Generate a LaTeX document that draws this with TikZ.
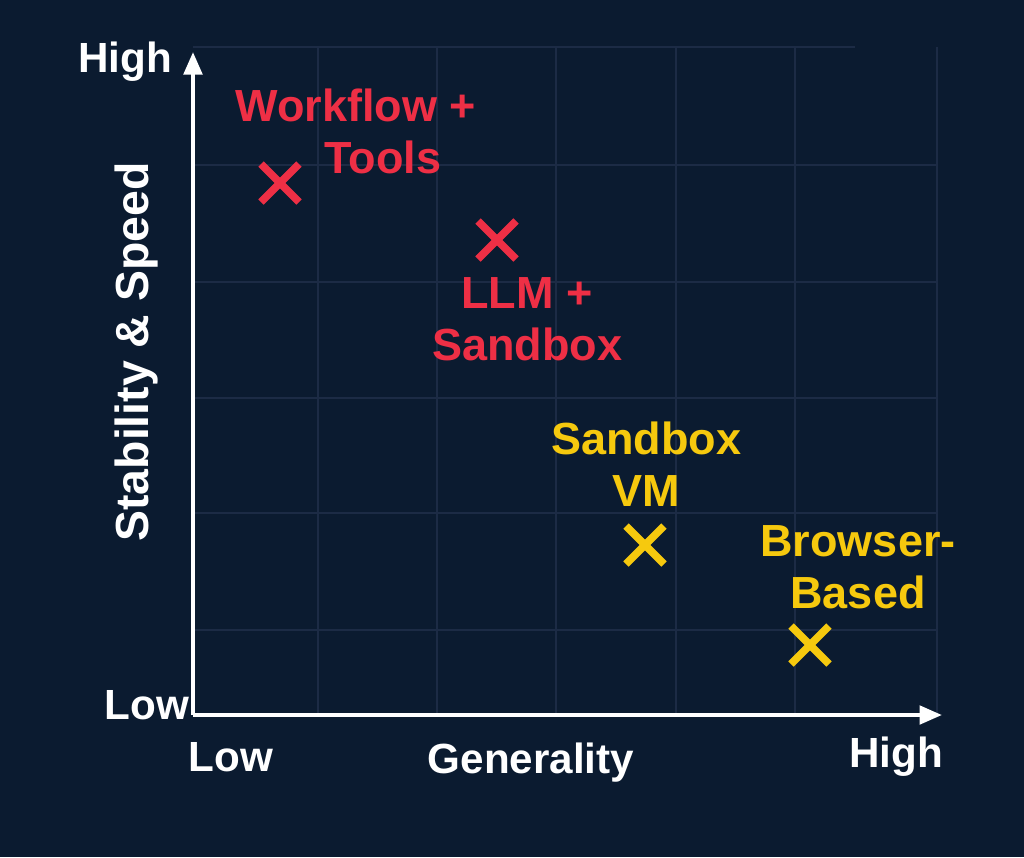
\documentclass[tikz,border=0pt]{standalone}
\usepackage{fontspec}
\setmainfont{Liberation Sans}
\usetikzlibrary{arrows.meta, calc}
\definecolor{bgnavy}{HTML}{0B1B30}
\definecolor{gridnavy}{HTML}{1C2B45}
\definecolor{hotred}{HTML}{EE2F45}
\definecolor{gold}{HTML}{F6C90E}
\begin{document}
\begin{tikzpicture}[x=0.025cm, y=-0.025cm,
        axislabel/.style={text=white, font=\fontsize{30}{33}\selectfont\bfseries},
        ptlabel/.style={align=center, font=\fontsize{32}{37}\selectfont\bfseries},
        cross/.style={line width=5.5pt},
      ]
      \fill[bgnavy] (0,0) rectangle (1024,857);
      \useasboundingbox (0,0) rectangle (1024,857);
      % grid
      \foreach \gx in {318,437,556,676,795,937}
        \draw[gridnavy, line width=1.2pt] (\gx,47) -- (\gx,715);
      \foreach \gy in {165,282,398,513,630}
        \draw[gridnavy, line width=1.2pt] (193,\gy) -- (937,\gy);
      \draw[gridnavy, line width=1.2pt] (193,47) -- (855,47);
      % axes
      \coordinate (origin) at (193,715);
      \coordinate (ytop) at (193,52);
      \coordinate (xend) at (942,715);
      \draw[white, line width=3pt, -{Triangle[length=16pt,width=13pt]}] (origin) -- (ytop);
      \draw[white, line width=3pt, -{Triangle[length=16pt,width=13pt]}] (origin) -- (xend);
      \node[axislabel] (yhigh) at (125,62) {High};
      \node[axislabel] (ylow) at (147,705) {Low};
      \node[axislabel] (xlow) at (231,757) {Low};
      \node[axislabel] (xhigh) at (896,757) {High};
      \node[axislabel] (xname) at (531,763) {Generality};
      \node[axislabel, rotate=90, font=\fontsize{33}{36}\selectfont\bfseries] (yname) at (137,352) {Stability \& Speed};
      % points
      \foreach \px/\py/\col/\nm in {280/183/hotred/workflow, 497/240/hotred/llm,
          645/545/gold/vm, 810/645/gold/browser} {
        \coordinate (\nm) at (\px,\py);
        \draw[cross, \col] ($(\nm)+(-19,-19)$) -- ($(\nm)+(19,19)$);
        \draw[cross, \col] ($(\nm)+(-19,19)$) -- ($(\nm)+(19,-19)$);
      }
      \node[ptlabel, text=hotred] (workflowlbl) at (356,131) {Workflow +\\\hspace*{1.2em}Tools};
      \node[ptlabel, text=hotred] (llmlbl) at (527,319) {LLM +\\Sandbox};
      \node[ptlabel, text=gold] (vmlbl) at (646,464) {Sandbox\\VM};
      \node[ptlabel, text=gold] (browserlbl) at (858,567) {Browser-\\Based};
    \end{tikzpicture}
\end{document}
